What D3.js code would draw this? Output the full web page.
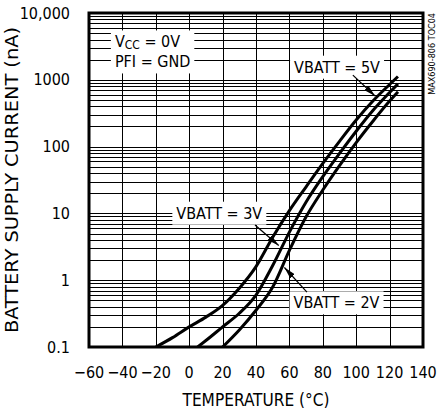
<!DOCTYPE html>
<html>
<head>
<meta charset="utf-8">
<script src="https://cdn.jsdelivr.net/npm/d3@7"></script>
<style>
  body { margin: 0; background: #fff; }
  svg text { font-family: "Liberation Sans Narrow", "Arial Narrow", "DejaVu Sans Condensed", sans-serif; fill: #000; }
</style>
</head>
<body>
<div id="chart"></div>
<script>
// temperature (deg C) and battery supply current (nA)
var temps5V = [-20, -10, 0, 10, 20, 30, 40, 50, 60, 70, 80, 90, 100, 110, 120, 125];
var curr5V  = [0.1, 0.138, 0.2, 0.28, 0.42, 0.76, 1.6, 4.4, 11, 25, 56, 120, 250, 480, 850, 1120];

var temps3V = [5, 10, 20, 30, 40, 50, 60, 70, 80, 90, 100, 110, 120, 125];
var curr3V  = [0.1, 0.125, 0.2, 0.32, 0.6, 1.66, 5.25, 14.8, 35.5, 79, 170, 347, 645, 870];

var temps2V = [20, 30, 40, 50, 60, 70, 80, 90, 100, 110, 120, 125];
var curr2V  = [0.1, 0.18, 0.355, 0.79, 2.8, 8.9, 22.4, 52, 115, 240, 480, 660];

var xTicks = [-60, -40, -20, 0, 20, 40, 60, 80, 100, 120, 140];
var yTicks = [0.1, 1, 10, 100, 1000, 10000];
var yTickLabels = ["0.1", "1", "10", "100", "1000", "10,000"];

// callouts, placed in data units
var callouts = [
  {text: "VBATT = 5V", t: 88.5, v: 1550, from: [98, 1175], to: [111.3, 571]},
  {text: "VBATT = 3V", t: 18, v: 10.1, from: [39.4, 6.7], to: [53.6, 3.3]},
  {text: "VBATT = 2V", t: 88.2, v: 0.46, from: [70.5, 0.665], to: [57, 1.55]}
];

var margin = {left: 89, right: 14, top: 13, bottom: 63};
var W = 437, H = 410;
var width = W - margin.left - margin.right;
var height = H - margin.top - margin.bottom;

var x = d3.scaleLinear().domain([-60, 140]).range([0, width]);
var y = d3.scaleLog().domain([0.1, 10000]).range([height, 0]);

var svg = d3.select("#chart").append("svg")
  .attr("width", W)
  .attr("height", H);

svg.append("defs").append("marker")
  .attr("id", "arrow")
  .attr("viewBox", "0 0 12 6")
  .attr("refX", 12)
  .attr("refY", 3)
  .attr("markerWidth", 12)
  .attr("markerHeight", 6)
  .attr("markerUnits", "userSpaceOnUse")
  .attr("orient", "auto")
  .append("path")
  .attr("d", "M0,0L12,3L0,6Z")
  .attr("fill", "#000");

svg.select("defs").append("clipPath")
  .attr("id", "clip")
  .append("rect")
  .attr("width", width)
  .attr("height", height);

var g = svg.append("g")
  .attr("transform", "translate(" + margin.left + "," + margin.top + ")");

// horizontal grid: 1..9 in every decade
var hLines = [];
for (var e = -1; e < 4; e++) {
  for (var m = 1; m < 10; m++) hLines.push(m * Math.pow(10, e));
}
g.selectAll(".hgrid").data(hLines).enter().append("line")
  .attr("class", "hgrid")
  .attr("x1", 0).attr("x2", width)
  .attr("y1", function (d) { return Math.round(y(d)) + 0.5; })
  .attr("y2", function (d) { return Math.round(y(d)) + 0.5; })
  .attr("stroke", "#000")
  .attr("stroke-width", 1);

g.selectAll(".vgrid").data(xTicks.slice(1, -1)).enter().append("line")
  .attr("class", "vgrid")
  .attr("y1", 0).attr("y2", height)
  .attr("x1", function (d) { return Math.round(x(d)) + 0.5; })
  .attr("x2", function (d) { return Math.round(x(d)) + 0.5; })
  .attr("stroke", "#000")
  .attr("stroke-width", 1);

// curves
var line = d3.line()
  .x(function (d) { return x(d[0]); })
  .y(function (d) { return y(d[1]); })
  .curve(d3.curveMonotoneX);

[[temps5V, curr5V], [temps3V, curr3V], [temps2V, curr2V]].forEach(function (s) {
  g.append("path")
    .attr("clip-path", "url(#clip)")
    .attr("d", line(d3.zip(s[0], s[1])))
    .attr("fill", "none")
    .attr("stroke", "#000")
    .attr("stroke-width", 3);
});

// white label boxes with text
function boxedText(lines, cx, cy, anchor) {
  var grp = g.append("g");
  var t = grp.append("text")
    .attr("text-anchor", anchor)
    .style("font-size", "16px");
  lines.forEach(function (l, i) {
    var ts = t.append("tspan").attr("x", cx).attr("y", cy + i * 20).attr("dy", "0.35em");
    l.forEach(function (part) {
      var p = ts.append("tspan").text(part.s);
      if (part.sub) p.style("font-size", "12px").attr("dy", "2");
      else if (part.after) p.attr("dy", "-2");
    });
  });
  var bb = t.node().getBBox();
  grp.insert("rect", "text")
    .attr("x", bb.x - 4).attr("y", bb.y - 2)
    .attr("width", bb.width + 8).attr("height", bb.height + 4)
    .attr("fill", "#fff");
}

boxedText([
  [{s: "V"}, {s: "CC", sub: true}, {s: " = 0V", after: true}],
  [{s: "PFI = GND"}]
], x(-44.5), y(3700), "start");

callouts.forEach(function (c) {
  boxedText([[{s: c.text}]], x(c.t), y(c.v), "middle");
  g.append("line")
    .attr("x1", x(c.from[0])).attr("y1", y(c.from[1]))
    .attr("x2", x(c.to[0])).attr("y2", y(c.to[1]))
    .attr("stroke", "#000")
    .attr("stroke-width", 1.2)
    .attr("marker-end", "url(#arrow)");
});

// frame
g.append("rect")
  .attr("width", width).attr("height", height)
  .attr("fill", "none")
  .attr("stroke", "#000")
  .attr("stroke-width", 3);

// axes labels
g.selectAll(".xlab").data(xTicks).enter().append("text")
  .attr("x", function (d) { return x(d); })
  .attr("y", height + 31)
  .attr("text-anchor", "middle")
  .style("font-size", "16px")
  .text(function (d) { return d < 0 ? "\u2212" + Math.abs(d) : d; });

g.selectAll(".ylab").data(yTicks).enter().append("text")
  .attr("x", -19)
  .attr("y", function (d) { return y(d); })
  .attr("dy", "0.35em")
  .attr("text-anchor", "end")
  .style("font-size", "16px")
  .text(function (d, i) { return yTickLabels[i]; });

g.append("text")
  .attr("x", width / 2)
  .attr("y", height + 59)
  .attr("text-anchor", "middle")
  .attr("textLength", 147)
  .attr("lengthAdjust", "spacingAndGlyphs")
  .style("font-size", "17px")
  .text("TEMPERATURE (\u00B0C)");

g.append("text")
  .attr("transform", "translate(" + (-71) + "," + (height / 2) + ") rotate(-90)")
  .attr("text-anchor", "middle")
  .attr("textLength", 306)
  .attr("lengthAdjust", "spacingAndGlyphs")
  .style("font-size", "17px")
  .text("BATTERY SUPPLY CURRENT (nA)");

svg.append("text")
  .attr("transform", "translate(435,13) rotate(-90)")
  .attr("text-anchor", "end")
  .style("font-size", "9px")
  .text("MAX690-806 TOC04");
</script>
</body>
</html>
